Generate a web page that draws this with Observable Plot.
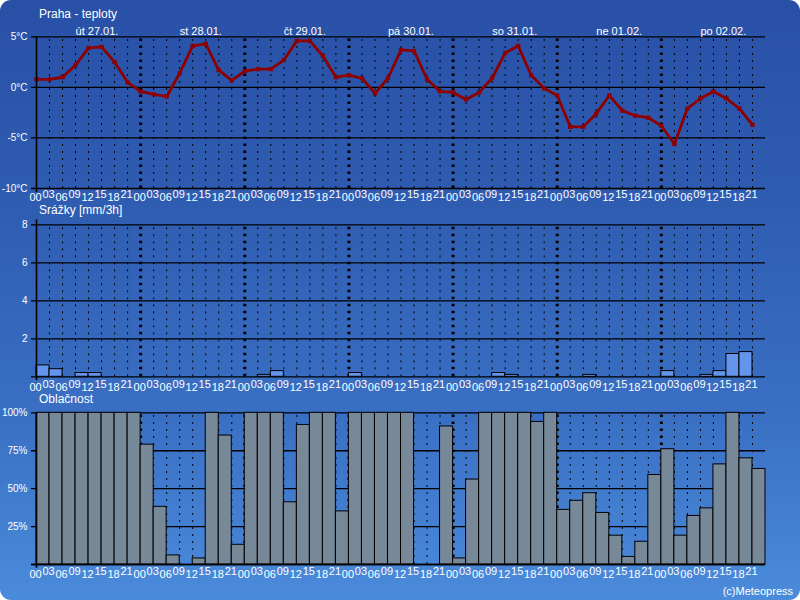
<!DOCTYPE html>
<html>
<head>
<meta charset="utf-8">
<script src="https://cdn.jsdelivr.net/npm/d3@7"></script>
<script src="https://cdn.jsdelivr.net/npm/@observablehq/plot@0.6"></script>
<style>
html, body { margin: 0; padding: 0; background: #ffffff; }
#wrap { position: relative; width: 800px; height: 600px; overflow: hidden; font-family: "Liberation Sans", Arial, sans-serif; }
#bg { position: absolute; left: 0; top: 0; width: 800px; height: 600px; border-radius: 11px;
      background: linear-gradient(to bottom, #2850a6 0%, #2f5db2 35%, #3a70c4 70%, #4b8bdb 100%); }
.panel { position: absolute; left: 0; }
.panel svg { display: block; }
.title { position: absolute; color: #ffffff; font-size: 12px; line-height: 14px; white-space: nowrap; }
</style>
</head>
<body>
<div id="wrap">
  <div id="bg"></div>
  <div class="panel" id="p1" style="top:0px"></div>
  <div class="panel" id="p2" style="top:200px"></div>
  <div class="panel" id="p3" style="top:390px"></div>
  <div class="title" style="left:39px;top:7px">Praha - teploty</div>
  <div class="title" style="left:39px;top:203px">Srážky [mm/3h]</div>
  <div class="title" style="left:39px;top:392px">Oblačnost</div>
  <div class="title" style="right:7px;top:584px;font-size:11px">(c)Meteopress</div>
</div>
<script>
// ---- data ----
const days = ["út 27.01.", "st 28.01.", "čt 29.01.", "pá 30.01.", "so 31.01.", "ne 01.02.", "po 02.02."];
const hours = ["00", "03", "06", "09", "12", "15", "18", "21"];
const temps = [
  0.8, 0.8, 1.0, 2.2, 3.9, 4.0, 2.5, 0.5,
  -0.4, -0.7, -0.9, 1.4, 4.1, 4.3, 1.7, 0.7,
  1.6, 1.8, 1.8, 2.7, 4.6, 4.6, 3.1, 1.0,
  1.2, 0.9, -0.6, 0.9, 3.7, 3.6, 0.8, -0.4,
  -0.5, -1.2, -0.5, 0.9, 3.4, 4.1, 1.2, -0.1,
  -0.8, -3.9, -3.9, -2.6, -0.8, -2.3, -2.8, -3.0,
  -3.8, -5.6, -2.1, -1.1, -0.4, -1.1, -2.1, -3.7
];
const precip = [
  0.6, 0.4, 0, 0.2, 0.2, 0, 0, 0,
  0, 0, 0, 0, 0, 0, 0, 0,
  0, 0.1, 0.3, 0, 0, 0, 0, 0,
  0.2, 0, 0, 0, 0, 0, 0, 0,
  0, 0, 0, 0.2, 0.1, 0, 0, 0,
  0, 0, 0.1, 0, 0, 0, 0, 0,
  0.3, 0, 0, 0.1, 0.3, 1.2, 1.3, 0
];
const clouds = [
  100, 100, 100, 100, 100, 100, 100, 100,
  79, 38, 6, 0, 4, 100, 85, 13,
  100, 100, 100, 41, 92, 100, 100, 35,
  100, 100, 100, 100, 100, 0, 0, 91,
  4, 56, 100, 100, 100, 100, 94, 100,
  36, 42, 47, 34, 19, 5, 15, 59,
  76, 19, 32, 37, 66, 100, 70, 63
];
const tempTicks = [5, 0, -5, -10];
const tempLabels = ["5°C", "0°C", "-5°C", "-10°C"];
const precipTicks = [0, 2, 4, 6, 8];
const precipLabels = ["", "2", "4", "6", "8"];
const cloudTicks = [0, 25, 50, 75, 100];
const cloudLabels = ["", "25%", "50%", "75%", "100%"];

// ---- helpers ----
const N = temps.length;            // 56 three-hour slots
const slots = d3.range(N);
const minorSlots = d3.range(1, N).filter(i => i % 8 !== 0);
const midnightSlots = d3.range(8, N, 8);
const tickX1 = -0.384;             // short tick left of the axis
const styleOpts = { background: "transparent", color: "white", fontFamily: "'Liberation Sans', Arial, sans-serif", overflow: "visible" };

function gridMarks(ticks, yMin, yMax) {
  return [
    Plot.ruleY(ticks, { y: d => d, x1: tickX1, x2: N, stroke: "black", strokeWidth: 1.3 }),
    Plot.ruleX(minorSlots, { x: d => d, y1: yMin, y2: yMax, stroke: "black", strokeWidth: 1, strokeDasharray: "2,5" }),
    Plot.ruleX(midnightSlots, { x: d => d, y1: yMin, y2: yMax, stroke: "black", strokeWidth: 3, strokeDasharray: "2.5,4.5" })
  ];
}
function axisMarks(ticks, labels, yMin, axisBottom, axisTop, dyEven, dyOdd) {
  return [
    Plot.ruleX([0], { y1: axisBottom, y2: axisTop, stroke: "black", strokeWidth: 1.6 }),
    Plot.text(ticks, { x: 0, y: d => d, text: (d, i) => labels[i], textAnchor: "end", dx: -9, fill: "white", fontSize: 10 }),
    Plot.text(slots.filter(i => i % 2 === 0), { x: d => d, y: yMin, text: d => hours[d % 8], lineAnchor: "top", dx: -1, dy: dyEven, fill: "white", fontSize: 11 }),
    Plot.text(slots.filter(i => i % 2 === 1), { x: d => d, y: yMin, text: d => hours[d % 8], lineAnchor: "top", dx: -1, dy: dyOdd, fill: "white", fontSize: 11 })
  ];
}

// ---- temperature ----
const p1 = Plot.plot({
  width: 800, height: 205,
  marginLeft: 36, marginRight: 35, marginTop: 36.3, marginBottom: 17,
  x: { domain: [0, N], axis: null },
  y: { domain: [-10, 5], axis: null },
  style: styleOpts,
  marks: [
    ...gridMarks(tempTicks, -10, 5),
    Plot.line(slots, { x: d => d, y: d => temps[d], stroke: "#8e0000", strokeWidth: 2.8, strokeLinejoin: "round" }),
    Plot.dot(slots, { x: d => d, y: d => temps[d], symbol: "square", r: 2.4, fill: "#8e0000", stroke: "none" }),
    ...axisMarks(tempTicks, tempLabels, -10, -10.4, 5, 5, 2),
    Plot.text(days, { x: (d, i) => 3 + 8 * i, y: 5, text: d => d, textAnchor: "start", lineAnchor: "bottom", dy: -1.5, fill: "white", fontSize: 11 })
  ]
});
document.getElementById("p1").appendChild(p1);

// ---- precipitation ----
const p2 = Plot.plot({
  width: 800, height: 190,
  marginLeft: 36, marginRight: 35, marginTop: 24.3, marginBottom: 13.7,
  x: { domain: [0, N], axis: null },
  y: { domain: [0, 8], axis: null },
  style: styleOpts,
  marks: [
    ...gridMarks(precipTicks, 0, 8),
    Plot.rect(slots.filter(i => precip[i] > 0), { x1: d => d, x2: d => d + 1, y1: 0, y2: d => precip[d], fill: "#6495ed", stroke: "black", strokeWidth: 1 }),
    ...axisMarks(precipTicks, precipLabels, 0, -0.2, 8.26, 6, 3)
  ]
});
document.getElementById("p2").appendChild(p2);

// ---- cloudiness ----
const p3 = Plot.plot({
  width: 800, height: 190,
  marginLeft: 36, marginRight: 35, marginTop: 22.3, marginBottom: 16,
  x: { domain: [0, N], axis: null },
  y: { domain: [0, 100], axis: null },
  style: styleOpts,
  marks: [
    ...gridMarks(cloudTicks, 0, 100),
    Plot.rect(slots.filter(i => clouds[i] > 0), { x1: d => d, x2: d => d + 1, y1: 0, y2: d => clouds[d], fill: "#778899", stroke: "black", strokeWidth: 1 }),
    Plot.ruleY([0], { x1: tickX1, x2: N, stroke: "black", strokeWidth: 1.3 }),
    ...axisMarks(cloudTicks, cloudLabels, 0, -2.5, 100, 6, 3)
  ]
});
document.getElementById("p3").appendChild(p3);
</script>
</body>
</html>
